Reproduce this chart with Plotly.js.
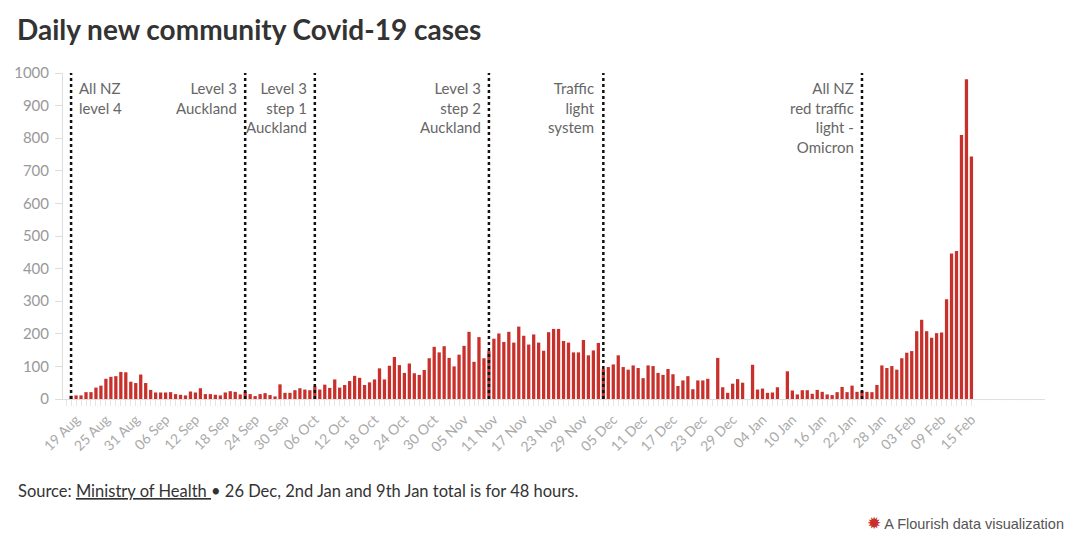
<!DOCTYPE html>
<html>
<head>
<meta charset="utf-8">
<script src="https://cdn.plot.ly/plotly-3.0.1.min.js"></script>
<style>
  html, body { margin: 0; padding: 0; background: #fff; }
  #chart { width: 1080px; height: 543px; }
</style>
</head>
<body>
<div id="chart"></div>
<script>
// Daily new community Covid-19 cases, by month (day-of-month order)
const aug2021 = [10, 11, 11, 21, 21, 35, 41, 62, 68, 70, 83, 82, 53, 49]; // 18–31 Aug
const sep2021 = [75, 49, 28, 20, 20, 20, 21, 15, 13, 11, 23, 20, 33, 15, 15, 13, 11, 20, 24, 22, 14, 23, 15, 9, 15, 18, 12, 8, 45, 19];
const oct2021 = [19, 27, 33, 29, 27, 39, 29, 44, 34, 60, 35, 43, 55, 71, 65, 43, 51, 60, 94, 60, 102, 129, 104, 80, 109, 79, 74, 89, 125, 160, 143];
const nov2021 = [162, 126, 100, 136, 163, 206, 114, 190, 125, 147, 185, 201, 175, 206, 173, 222, 194, 167, 198, 173, 148, 205, 215, 215, 178, 173, 143, 143, 181, 134];
const dec2021 = [149, 172, 92, 98, 106, 134, 98, 90, 103, 95, 64, 103, 101, 80, 74, 92, 76, 40, 57, 70, 30, 57, 57, 62, null, 126, 36, 19, 47, 61, 50];
const jan2022 = [null, 105, 29, 32, 19, 20, 36, null, 85, 26, 14, 27, 27, 16, 28, 22, 14, 12, 21, 37, 21, 41, 22, 25, 22, 21, 43, 103, 95, 101, 90];
const feb2022 = [125, 142, 147, 208, 243, 208, 188, 202, 204, 306, 446, 454, 810, 981, 744];

const months = [
  { ym: "2021-08", firstDay: 18, values: aug2021 },
  { ym: "2021-09", firstDay: 1, values: sep2021 },
  { ym: "2021-10", firstDay: 1, values: oct2021 },
  { ym: "2021-11", firstDay: 1, values: nov2021 },
  { ym: "2021-12", firstDay: 1, values: dec2021 },
  { ym: "2022-01", firstDay: 1, values: jan2022 },
  { ym: "2022-02", firstDay: 1, values: feb2022 }
];

// Tick labels (every 6 days)
const tickDates = ["2021-08-19","2021-08-25","2021-08-31","2021-09-06","2021-09-12","2021-09-18","2021-09-24","2021-09-30",
  "2021-10-06","2021-10-12","2021-10-18","2021-10-24","2021-10-30","2021-11-05","2021-11-11","2021-11-17","2021-11-23","2021-11-29",
  "2021-12-05","2021-12-11","2021-12-17","2021-12-23","2021-12-29","2022-01-04","2022-01-10","2022-01-16","2022-01-22","2022-01-28",
  "2022-02-03","2022-02-09","2022-02-15"];

// Alert-level changes
const eventDates = ["2021-08-18", "2021-09-22", "2021-10-06", "2021-11-10", "2021-12-03", "2022-01-24"];
const eventLabels = ["All NZ<br>level 4", "Level 3<br>Auckland", "Level 3<br>step 1<br>Auckland", "Level 3<br>step 2<br>Auckland", "Traffic<br>light<br>system", "All NZ<br>red traffic<br>light -<br>Omicron"];
const eventSide = ["right", "left", "left", "left", "left", "left"];

const dates = [], cases = [];
months.forEach(m => {
  m.values.forEach((v, i) => {
    const d = m.firstDay + i;
    dates.push(m.ym + "-" + String(d).padStart(2, "0"));
    cases.push(v);
  });
});

const FONT = "Lato, 'Source Sans Pro', 'Open Sans', sans-serif";

const shapes = eventDates.map(d => ({
  type: "line", xref: "x", yref: "paper", x0: d, x1: d, y0: 0, y1: 1,
  line: { color: "#111", width: 2.5, dash: "dot" }, layer: "above"
}));
// hide per-day minor ticks beyond last data point
shapes.push({
  type: "rect", xref: "x", yref: "paper", x0: "2022-02-15 14:00", x1: "2022-03-01 19:00",
  y0: -0.004, y1: -0.04, fillcolor: "#fff", line: { width: 0 }, layer: "above"
});

const annotations = eventDates.map((d, i) => ({
  x: d, xref: "x", y: 0.988, yref: "paper",
  text: eventLabels[i], showarrow: false,
  xanchor: eventSide[i] === "right" ? "left" : "right",
  yanchor: "top", align: eventSide[i] === "right" ? "left" : "right",
  xshift: eventSide[i] === "right" ? 6 : -6,
  font: { family: FONT, size: 15, color: "#666" }
}));

annotations.push({
  xref: "paper", yref: "paper", x: (16 - 63) / 982, y: -(492 - 399.5) / 326.5,
  xanchor: "left", yanchor: "middle", showarrow: false, align: "left",
  text: "Source: <span style=\"text-decoration:underline\">Ministry of Health </span>• 26 Dec, 2nd Jan and 9th Jan total is for 48 hours.",
  font: { family: FONT, size: 16.5, color: "#333" }
});
annotations.push({
  xref: "paper", yref: "paper", x: (1066 - 63) / 982, y: -(524 - 399.5) / 326.5,
  xanchor: "right", yanchor: "middle", showarrow: false,
  text: "<span style=\"color:#c8312b;font-size:17px\">✹</span> A Flourish data visualization",
  font: { family: "'Liberation Sans', Arial, sans-serif", size: 14.5, color: "#555" }
});

const trace = {
  type: "bar", x: dates, y: cases,
  marker: { color: "#c8312b", line: { width: 0 } },
  hoverinfo: "x+y"
};

const layout = {
  width: 1080, height: 543,
  paper_bgcolor: "#fff", plot_bgcolor: "#fff",
  margin: { l: 63, r: 35, t: 73, b: 143.5, pad: 0 },
  bargap: 0.34,
  showlegend: false,
  title: {
    text: "<b>Daily new community Covid-19 cases</b>",
    xref: "container", yref: "container", x: 17 / 1080, xanchor: "left",
    y: 1 - 30 / 543, yanchor: "middle",
    font: { family: FONT, size: 28, color: "#333" }
  },
  xaxis: {
    type: "date",
    range: ["2021-08-16 09:00", "2022-03-01 19:00"],
    tickvals: tickDates, tickformat: "%d %b", tickangle: -45,
    ticks: "outside", ticklen: 6, tickcolor: "#e6e6e6",
    minor: { dtick: 86400000, tick0: "2021-08-18", ticks: "outside", ticklen: 6, tickcolor: "#e6e6e6", showgrid: false },
    showline: true, linecolor: "#e0e0e0", linewidth: 1,
    showgrid: false, zeroline: false,
    tickfont: { family: FONT, size: 14, color: "#aaa" }
  },
  yaxis: {
    range: [0, 1000], dtick: 100, tick0: 0,
    ticks: "outside", ticklen: 7, tickcolor: "#ddd",
    ticklabelstandoff: 3,
    showline: true, linecolor: "#ddd", linewidth: 1,
    showgrid: false, zeroline: false,
    tickfont: { family: FONT, size: 15, color: "#999" }
  },
  shapes: shapes,
  annotations: annotations
};

Plotly.newPlot("chart", [trace], layout, { displayModeBar: false, staticPlot: true });
</script>
</body>
</html>
